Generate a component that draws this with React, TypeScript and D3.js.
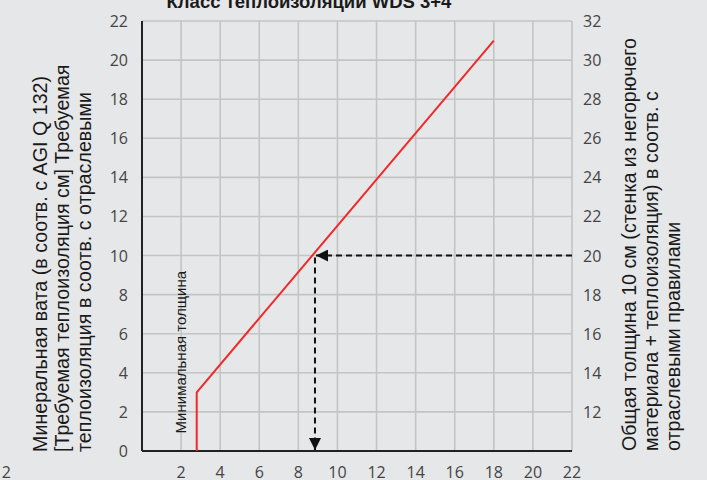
import * as d3 from 'd3'
import { FC } from 'react'

const WIDTH = 707
const HEIGHT = 480
const MARGIN = { top: 21, right: 135, bottom: 29, left: 142 }

const TITLE = 'Класс теплоизоляции WDS 3+4'
const X_TICKS = [2, 4, 6, 8, 10, 12, 14, 16, 18, 20, 22]
const Y_TICKS = [0, 2, 4, 6, 8, 10, 12, 14, 16, 18, 20, 22]
const Y_RIGHT_OFFSET = 10
const Y_RIGHT_TICKS = [12, 14, 16, 18, 20, 22, 24, 26, 28, 30, 32]

// required insulation curve (x, y)
const CURVE: [number, number][] = [
  [2.8, 0],
  [2.8, 3],
  [18, 21],
]
const READ_POINT: [number, number] = [8.85, 10]

const LEFT_TITLE = [
  'Минеральная вата (в соотв. с AGI Q 132)',
  '[Требуемая теплоизоляция см] Требуемая',
  'теплоизоляция в соотв. с отраслевыми',
]
const RIGHT_TITLE = [
  'Общая толщина 10 см (стенка из негорючего',
  'материала +  теплоизоляция) в соотв. с',
  'отраслевыми правилами',
]
const MIN_LABEL = 'Минимальная толщина'

const TICK_FONT = '"Open Sans", "DejaVu Sans", sans-serif'
const LABEL_FONT = '"Liberation Sans", Arial, sans-serif'

const Chart: FC = () => {
  const boundsWidth = WIDTH - MARGIN.left - MARGIN.right
  const boundsHeight = HEIGHT - MARGIN.top - MARGIN.bottom

  const xScale = d3.scaleLinear().domain([0, 22]).range([0, boundsWidth])
  const yScale = d3.scaleLinear().domain([0, 22]).range([boundsHeight, 0])

  const line = d3
    .line<[number, number]>()
    .x((d) => xScale(d[0]))
    .y((d) => yScale(d[1]))

  const px = xScale(READ_POINT[0])
  const py = yScale(READ_POINT[1])

  return (
    <svg
      width={WIDTH}
      height={HEIGHT}
      style={{ position: 'absolute', left: 0, top: 0, background: '#e6e7e9' }}
    >
      <defs>
        <marker
          id='arrowHead'
          viewBox='0 0 10 10'
          refX={10}
          refY={5}
          markerWidth={13}
          markerHeight={12}
          markerUnits='userSpaceOnUse'
          orient='auto'
        >
          <path d='M0,0 L10,5 L0,10 Z' fill='#111' />
        </marker>
      </defs>

      <text
        x={309}
        y={8}
        textAnchor='middle'
        fontFamily={LABEL_FONT}
        fontWeight='bold'
        fontSize={18.5}
        fill='#1a1a1a'
      >
        {TITLE}
      </text>

      {/* piece of the neighbouring chart */}
      <text x={11} y={478} textAnchor='end' fontFamily={TICK_FONT} fontSize={16} fill='#444'>
        2
      </text>

      <g transform={`translate(${MARGIN.left},${MARGIN.top})`}>
        {/* grid */}
        {X_TICKS.map((t) => (
          <line
            key={'gx' + t}
            x1={xScale(t)}
            x2={xScale(t)}
            y1={0}
            y2={boundsHeight}
            stroke='#c4c4c4'
            strokeWidth={1.6}
          />
        ))}
        {Y_TICKS.map((t) => (
          <line
            key={'gy' + t}
            x1={0}
            x2={boundsWidth}
            y1={yScale(t)}
            y2={yScale(t)}
            stroke='#c4c4c4'
            strokeWidth={1.6}
          />
        ))}

        {/* axes */}
        <line x1={0} x2={0} y1={0} y2={boundsHeight} stroke='#222' strokeWidth={2} />
        <line x1={0} x2={boundsWidth} y1={boundsHeight} y2={boundsHeight} stroke='#222' strokeWidth={2} />

        {/* tick labels */}
        {Y_TICKS.map((t) => (
          <text
            key={'ly' + t}
            x={-14}
            y={yScale(t)}
            textAnchor='end'
            dominantBaseline='central'
            fontFamily={TICK_FONT}
            fontSize={16}
            fill='#444'
          >
            {t}
          </text>
        ))}
        {Y_RIGHT_TICKS.map((t) => (
          <text
            key={'ry' + t}
            x={boundsWidth + 11}
            y={yScale(t - Y_RIGHT_OFFSET)}
            textAnchor='start'
            dominantBaseline='central'
            fontFamily={TICK_FONT}
            fontSize={16}
            fill='#444'
          >
            {t}
          </text>
        ))}
        {X_TICKS.map((t) => (
          <text
            key={'lx' + t}
            x={xScale(t)}
            y={boundsHeight + 21}
            textAnchor='middle'
            dominantBaseline='central'
            fontFamily={TICK_FONT}
            fontSize={16}
            fill='#444'
          >
            {t}
          </text>
        ))}

        {/* curve */}
        <path d={line(CURVE) as string} fill='none' stroke='#ee2a2a' strokeWidth={2} />

        {/* reading arrows */}
        <line
          x1={boundsWidth}
          x2={px + 1}
          y1={py}
          y2={py}
          stroke='#111'
          strokeWidth={2}
          strokeDasharray='6,4'
          markerEnd='url(#arrowHead)'
        />
        <line
          x1={px}
          x2={px}
          y1={py + 2}
          y2={boundsHeight - 1}
          stroke='#111'
          strokeWidth={2}
          strokeDasharray='6,4'
          markerEnd='url(#arrowHead)'
        />

        <text
          transform={`translate(${xScale(2) + 5},${yScale(0.9)}) rotate(-90)`}
          textAnchor='start'
          fontFamily={LABEL_FONT}
          fontSize={15}
          fill='#1a1a1a'
        >
          {MIN_LABEL}
        </text>
      </g>

      {/* axis titles */}
      {LEFT_TITLE.map((s, i) => (
        <text
          key={'lt' + i}
          transform={`translate(${47 + i * 22},452) rotate(-90)`}
          textAnchor='start'
          fontFamily={LABEL_FONT}
          fontSize={19.7}
          fill='#1a1a1a'
        >
          {s}
        </text>
      ))}
      {RIGHT_TITLE.map((s, i) => (
        <text
          key={'rt' + i}
          transform={`translate(${636 + i * 22},451) rotate(-90)`}
          textAnchor='start'
          fontFamily={LABEL_FONT}
          fontSize={19.7}
          fill='#1a1a1a'
        >
          {s}
        </text>
      ))}
    </svg>
  )
}

export default function App() {
  return <Chart />
}
